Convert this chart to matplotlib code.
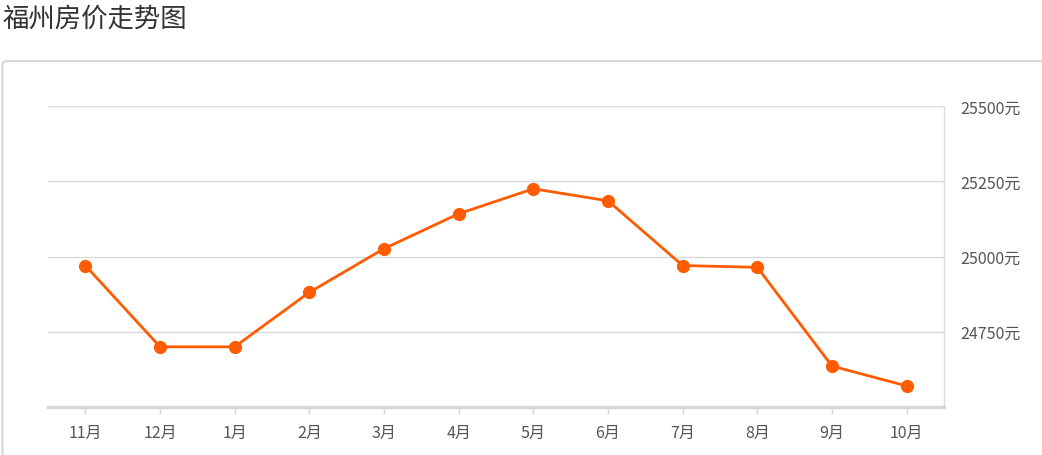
import matplotlib
matplotlib.use("Agg")
import matplotlib.pyplot as plt
from matplotlib.patches import FancyBboxPatch

plt.rcParams['font.family'] = ['Noto Sans CJK SC', 'DejaVu Sans']

months = ["11月", "12月", "1月", "2月", "3月", "4月", "5月", "6月", "7月", "8月", "9月", "10月"]
prices = [24970, 24700, 24700, 24881, 25026, 25142, 25225, 25185, 24970, 24964, 24636, 24570]
y_ticks = [24750, 25000, 25250, 25500]
y_labels = [f"{v}元" for v in y_ticks]

W, H = 1042, 456
fig = plt.figure(figsize=(W / 100, H / 100), dpi=100)

# outer panel with rounded border
box = FancyBboxPatch((2.5 / W, -10 / H), (W + 10) / W, (H - 62 + 10) / H,
                     boxstyle="round,pad=0,rounding_size=0.006",
                     transform=fig.transFigure, facecolor="white",
                     edgecolor="#d6d6d6", linewidth=1.5, zorder=-1)
fig.patches.append(box)

fig.text(2 / W, 1 - 19 / H, "福州房价走势图", fontsize=19, color="#333333",
         ha="left", va="center")

ax = fig.add_axes([48 / W, 1 - 408 / H, (944 - 48) / W, (408 - 107) / H])
ax.set_zorder(2)
ax.set_facecolor("none")
x = range(len(months))
ax.plot(x, prices, color="#ff5b00", linewidth=2, marker="o", markersize=8.5,
        zorder=3, clip_on=False)

ax.set_xlim(-0.5, len(months) - 0.5)
ax.set_ylim(24500, 25500)
ax.set_xticks(list(x))
ax.set_xticklabels(months)
ax.set_yticks(y_ticks)
ax.set_yticklabels(y_labels)
ax.yaxis.tick_right()
ax.tick_params(axis="y", length=0, pad=12, labelsize=11.5, labelcolor="#555555")
ax.tick_params(axis="x", length=5, width=1, color="#d6d6d6", pad=7,
               labelsize=11.5, labelcolor="#555555")
ax.grid(axis="y", color="#d9d9d9", linewidth=1)
ax.set_axisbelow(True)

for side in ["top", "left"]:
    ax.spines[side].set_visible(False)
ax.spines["right"].set_color("#dddddd")
ax.spines["right"].set_linewidth(1)
ax.spines["bottom"].set_color("#d6d6d6")
ax.spines["bottom"].set_linewidth(2.5)

fig.savefig("out.png", dpi=100)
